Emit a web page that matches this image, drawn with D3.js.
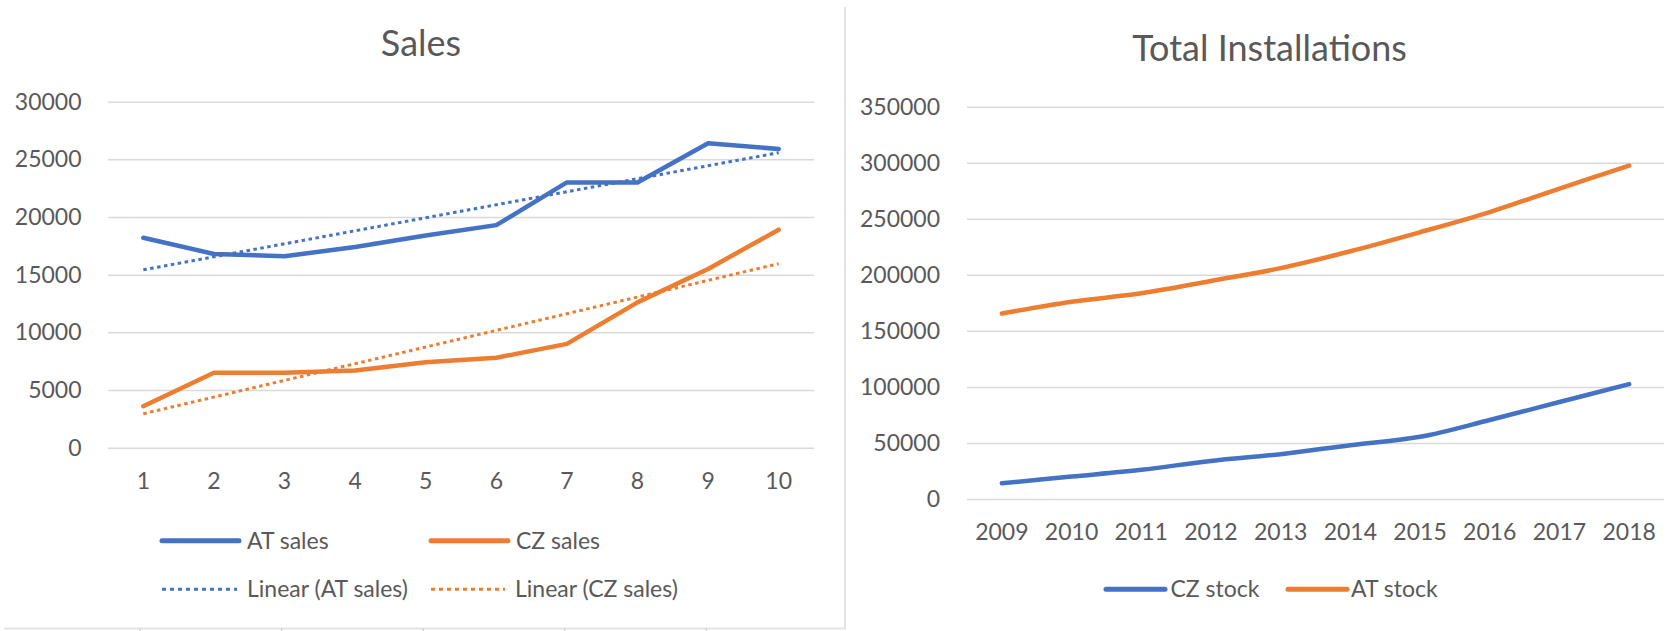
<!DOCTYPE html>
<html>
<head>
	<title>Sales / Total Installations</title>
	<style type="text/css">
		body {
			margin: 0;
			background: #fff;
			font-family: Lato, "Open Sans", sans-serif;
		}
		.title {
			fill: #595959;
			font-size: 36px;
		}
		.legend-text {
			fill: #595959;
			font-size: 23px;
		}
	</style>
</head>
<body>
	<svg id="chart"></svg>
	<script src="https://cdnjs.cloudflare.com/ajax/libs/d3/7.8.5/d3.min.js"></script>
	<script type="text/javascript">
		// data
		var salesPeriods = [1, 2, 3, 4, 5, 6, 7, 8, 9, 10];
		var atSales = [18200, 16800, 16600, 17400, 18400, 19300, 23000, 23000, 26400, 25900];
		var czSales = [3600, 6500, 6500, 6700, 7400, 7800, 9000, 12600, 15500, 18900];
		var salesTicks = [0, 5000, 10000, 15000, 20000, 25000, 30000];

		var stockYears = [2009, 2010, 2011, 2012, 2013, 2014, 2015, 2016, 2017, 2018];
		var czStock = [14000, 20000, 26000, 34000, 40000, 48000, 55500, 70500, 86500, 102500];
		var atStock = [165500, 176000, 183500, 194500, 206000, 221000, 238000, 256000, 277000, 297500];
		var stockTicks = [0, 50000, 100000, 150000, 200000, 250000, 300000, 350000];

		var blue = '#4472c4',
			orange = '#ed7d31',
			gridColor = '#d9d9d9',
			textColor = '#595959';

		var width = 1671,
			height = 631;

		var svg = d3.select('#chart')
			.attr('width', width)
			.attr('height', height);

		// least squares fit for the Excel style trendline
		function linearFit(xs, ys) {
			var mx = d3.mean(xs), my = d3.mean(ys);
			var sxy = d3.sum(xs, function(x, i) { return (x - mx) * (ys[i] - my); });
			var sxx = d3.sum(xs, function(x) { return (x - mx) * (x - mx); });
			var slope = sxy / sxx;
			return function(x) { return my + slope * (x - mx); };
		}

		function drawAxes(x, y, ticks, labelPad, xPad) {
			var left = x.range()[0], right = x.range()[1];

			svg.append('g')
				.attr('transform', 'translate(' + left + ',0)')
				.call(d3.axisLeft(y).tickValues(ticks).tickFormat(d3.format('d'))
					.tickSize(-(right - left)).tickPadding(labelPad))
				.call(function(g) { g.select('.domain').remove(); })
				.attr('font-size', 23)
				.attr('font-family', 'Lato, "Open Sans", sans-serif')
				.attr('color', textColor)
				.call(function(g) {
					g.selectAll('line').attr('stroke', gridColor).attr('stroke-width', 1.5);
				});

			svg.append('g')
				.attr('transform', 'translate(0,' + y(0) + ')')
				.call(d3.axisBottom(x).tickSize(0).tickPadding(xPad))
				.call(function(g) { g.select('.domain').remove(); })
				.attr('font-size', 23)
				.attr('font-family', 'Lato, "Open Sans", sans-serif')
				.attr('color', textColor);
		}

		function drawLegend(items, y) {
			var g = svg.append('g').attr('class', 'legend');
			items.forEach(function(d) {
				g.append('line')
					.attr('x1', d.x1).attr('x2', d.x2)
					.attr('y1', y).attr('y2', y)
					.attr('stroke', d.color)
					.attr('stroke-width', d.dash ? 3 : 5)
					.attr('stroke-dasharray', d.dash || null)
					.attr('stroke-linecap', d.dash ? 'butt' : 'round');
				g.append('text')
					.attr('class', 'legend-text')
					.attr('x', d.tx)
					.attr('y', y)
					.attr('dy', '0.35em')
					.text(d.label);
			});
		}

		// ---------- Sales ----------
		var xSales = d3.scaleBand().domain(salesPeriods).range([108, 814]);
		var ySales = d3.scaleLinear().domain([0, 30000]).range([447.7, 101.7]);
		var salesMid = function(p) { return xSales(p) + xSales.bandwidth() / 2; };

		drawAxes(xSales, ySales, salesTicks, 26.5, 25);

		var salesLine = d3.line()
			.x(function(d, i) { return salesMid(salesPeriods[i]); })
			.y(function(d) { return ySales(d); });

		[[atSales, blue], [czSales, orange]].forEach(function(s) {
			svg.append('path')
				.datum(s[0])
				.attr('d', salesLine)
				.attr('fill', 'none')
				.attr('stroke', s[1])
				.attr('stroke-width', 4.5)
				.attr('stroke-linejoin', 'round')
				.attr('stroke-linecap', 'round');
		});

		// trendlines from first to last period
		[[atSales, blue], [czSales, orange]].forEach(function(s) {
			var fit = linearFit(salesPeriods, s[0]);
			var ends = [salesPeriods[0], salesPeriods[salesPeriods.length - 1]];
			svg.append('path')
				.datum(ends)
				.attr('d', d3.line()
					.x(function(p) { return salesMid(p); })
					.y(function(p) { return ySales(fit(p)); }))
				.attr('fill', 'none')
				.attr('stroke', s[1])
				.attr('stroke-width', 3)
				.attr('stroke-dasharray', '3.5,3.5');
		});

		svg.append('text')
			.attr('class', 'title')
			.attr('x', 421)
			.attr('y', 43)
			.attr('dy', '0.35em')
			.attr('text-anchor', 'middle')
			.text('Sales');

		drawLegend([
			{label: 'AT sales', color: blue, x1: 162, x2: 239, tx: 247},
			{label: 'CZ sales', color: orange, x1: 431, x2: 508, tx: 516}
		], 540.7);
		drawLegend([
			{label: 'Linear (AT sales)', color: blue, x1: 162, x2: 237, tx: 247, dash: '4,4'},
			{label: 'Linear (CZ sales)', color: orange, x1: 431, x2: 505, tx: 515, dash: '4,4'}
		], 589.3);

		// ---------- Total Installations ----------
		var xStock = d3.scaleBand().domain(stockYears).range([967, 1664]);
		var yStock = d3.scaleLinear().domain([0, 350000]).range([499, 106.7]);

		drawAxes(xStock, yStock, stockTicks, 27, 24.5);

		var stockLine = d3.line()
			.curve(d3.curveCatmullRom.alpha(0.5))
			.x(function(d, i) { return xStock(stockYears[i]) + xStock.bandwidth() / 2; })
			.y(function(d) { return yStock(d); });

		[[czStock, blue], [atStock, orange]].forEach(function(s) {
			svg.append('path')
				.datum(s[0])
				.attr('d', stockLine)
				.attr('fill', 'none')
				.attr('stroke', s[1])
				.attr('stroke-width', 4.5)
				.attr('stroke-linecap', 'round');
		});

		svg.append('text')
			.attr('class', 'title')
			.attr('x', 1269.6)
			.attr('y', 48)
			.attr('dy', '0.35em')
			.attr('text-anchor', 'middle')
			.text('Total Installations');

		drawLegend([
			{label: 'CZ stock', color: blue, x1: 1106, x2: 1165, tx: 1170.5},
			{label: 'AT stock', color: orange, x1: 1288, x2: 1347, tx: 1351}
		], 589.3);

		// chart frame remnants: divider and the bottom edge
		svg.append('line')
			.attr('x1', 845).attr('x2', 845)
			.attr('y1', 7).attr('y2', 628)
			.attr('stroke', '#e3e3e3')
			.attr('stroke-width', 2);
		svg.append('line')
			.attr('x1', 4).attr('x2', 846)
			.attr('y1', 628.5).attr('y2', 628.5)
			.attr('stroke', '#e3e3e3')
			.attr('stroke-width', 2);
		svg.selectAll('.edge-tick')
			.data(d3.range(1, 6))
			.enter()
			.append('line')
			.attr('class', 'edge-tick')
			.attr('x1', function(k) { return -1.6 + k * 141.6; })
			.attr('x2', function(k) { return -1.6 + k * 141.6; })
			.attr('y1', 628.5).attr('y2', 631)
			.attr('stroke', '#d0d0d0')
			.attr('stroke-width', 1.5);
	</script>
</body>
</html>
